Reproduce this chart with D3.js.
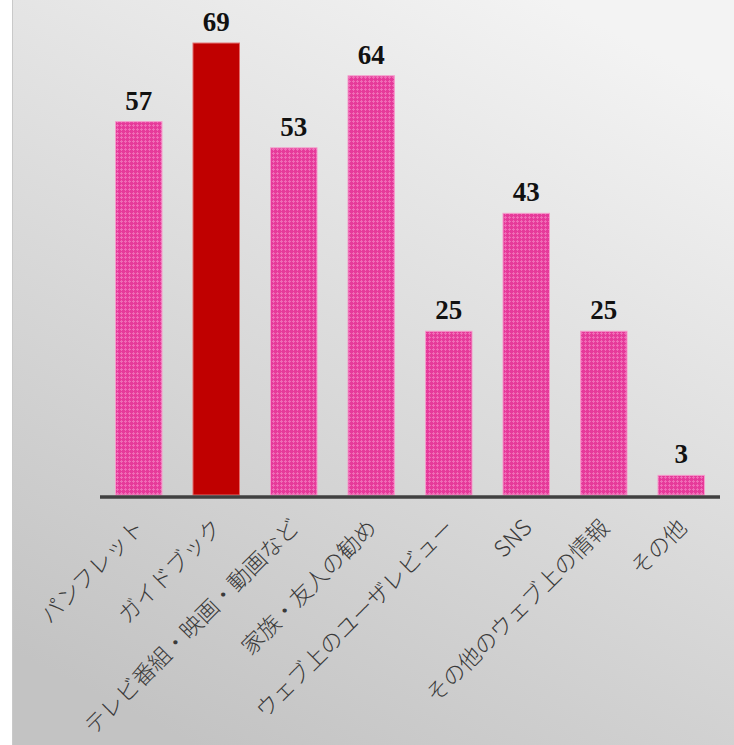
<!DOCTYPE html>
<html>
<head>
<meta charset="utf-8">
<script src="https://cdn.jsdelivr.net/npm/d3@7/dist/d3.min.js"></script>
<style>
  html, body { margin: 0; padding: 0; background: #ffffff; }
  svg { display: block; }
</style>
</head>
<body>
<svg id="chart" width="734" height="745"></svg>
<script>
// Information sources (responses per category)
const categories = [
  "パンフレット",
  "ガイドブック",
  "テレビ番組・映画・動画など",
  "家族・友人の勧め",
  "ウェブ上のユーザレビュー",
  "SNS",
  "その他のウェブ上の情報",
  "その他"
];
const values = [57, 69, 53, 64, 25, 43, 25, 3];
const highlighted = ["ガイドブック"];

const W = 734, H = 745;
const svg = d3.select("#chart");
const defs = svg.append("defs");

// Soft grey backdrop, lighter towards the top right
const grad = defs.append("linearGradient")
  .attr("id", "bg").attr("x1", "0.75").attr("y1", "0").attr("x2", "0.25").attr("y2", "1");
grad.append("stop").attr("offset", "0").attr("stop-color", "#f3f3f3");
grad.append("stop").attr("offset", "1").attr("stop-color", "#c3c3c3");

// Dotted pink fill for the regular bars
const pat = defs.append("pattern")
  .attr("id", "dots").attr("patternUnits", "userSpaceOnUse")
  .attr("width", 4).attr("height", 4);
pat.append("rect").attr("width", 4).attr("height", 4).attr("fill", "#e63a9a");
pat.append("rect").attr("x", 1).attr("y", 0).attr("width", 1).attr("height", 3).attr("fill", "#f06cb6");
pat.append("rect").attr("x", 0).attr("y", 1).attr("width", 3).attr("height", 1).attr("fill", "#f06cb6");

svg.append("rect").attr("x", 13).attr("y", 0).attr("width", W - 13).attr("height", H)
  .attr("fill", "url(#bg)");
svg.append("line").attr("x1", 12.5).attr("x2", 12.5).attr("y1", 0).attr("y2", H)
  .attr("stroke", "#c9c9c9").attr("stroke-width", 1);

const x = d3.scaleBand().domain(categories).range([100, 720])
  .paddingInner(0.4).paddingOuter(0.2);
const y = d3.scaleLinear().domain([0, 70]).range([495, 36.5]);

const data = categories.map((c, i) => ({ c, v: values[i] }));

svg.append("g").selectAll("rect").data(data).join("rect")
  .attr("x", d => x(d.c))
  .attr("y", d => y(d.v))
  .attr("width", x.bandwidth())
  .attr("height", d => y(0) - y(d.v))
  .attr("fill", d => highlighted.includes(d.c) ? "#c00000" : "url(#dots)")
  .attr("stroke", d => highlighted.includes(d.c) ? "#e36a6a" : "#f59ccc")
  .attr("stroke-width", 1);

// Category axis drawn as a thick baseline with rotated labels
const axis = svg.append("g").attr("transform", `translate(0,${y(0)})`)
  .call(d3.axisBottom(x).tickSize(0).tickSizeOuter(0).tickFormat(""));
axis.select(".domain").remove();
svg.append("line").attr("x1", 100).attr("x2", 720)
  .attr("y1", y(0) + 2).attr("y2", y(0) + 2)
  .attr("stroke", "#404040").attr("stroke-width", 3.5);

svg.append("g").selectAll("text").data(data).join("text")
  .attr("transform", d => `translate(${x(d.c) + x.bandwidth() / 2 + 7},${y(0) + 34}) rotate(-45)`)
  .attr("text-anchor", "end")
  .attr("font-family", "'Noto Sans CJK JP', sans-serif")
  .attr("font-size", 22.5)
  .attr("font-weight", 300)
  .attr("fill", "#3a3a3a")
  .text(d => d.c);

// Value labels above each bar
svg.append("g").selectAll("text").data(data).join("text")
  .attr("x", d => x(d.c) + x.bandwidth() / 2)
  .attr("y", d => y(d.v) - 12)
  .attr("text-anchor", "middle")
  .attr("font-family", "'Liberation Serif', serif")
  .attr("font-weight", "bold")
  .attr("font-size", 27)
  .attr("fill", "#111")
  .text(d => d.v);
</script>
</body>
</html>
